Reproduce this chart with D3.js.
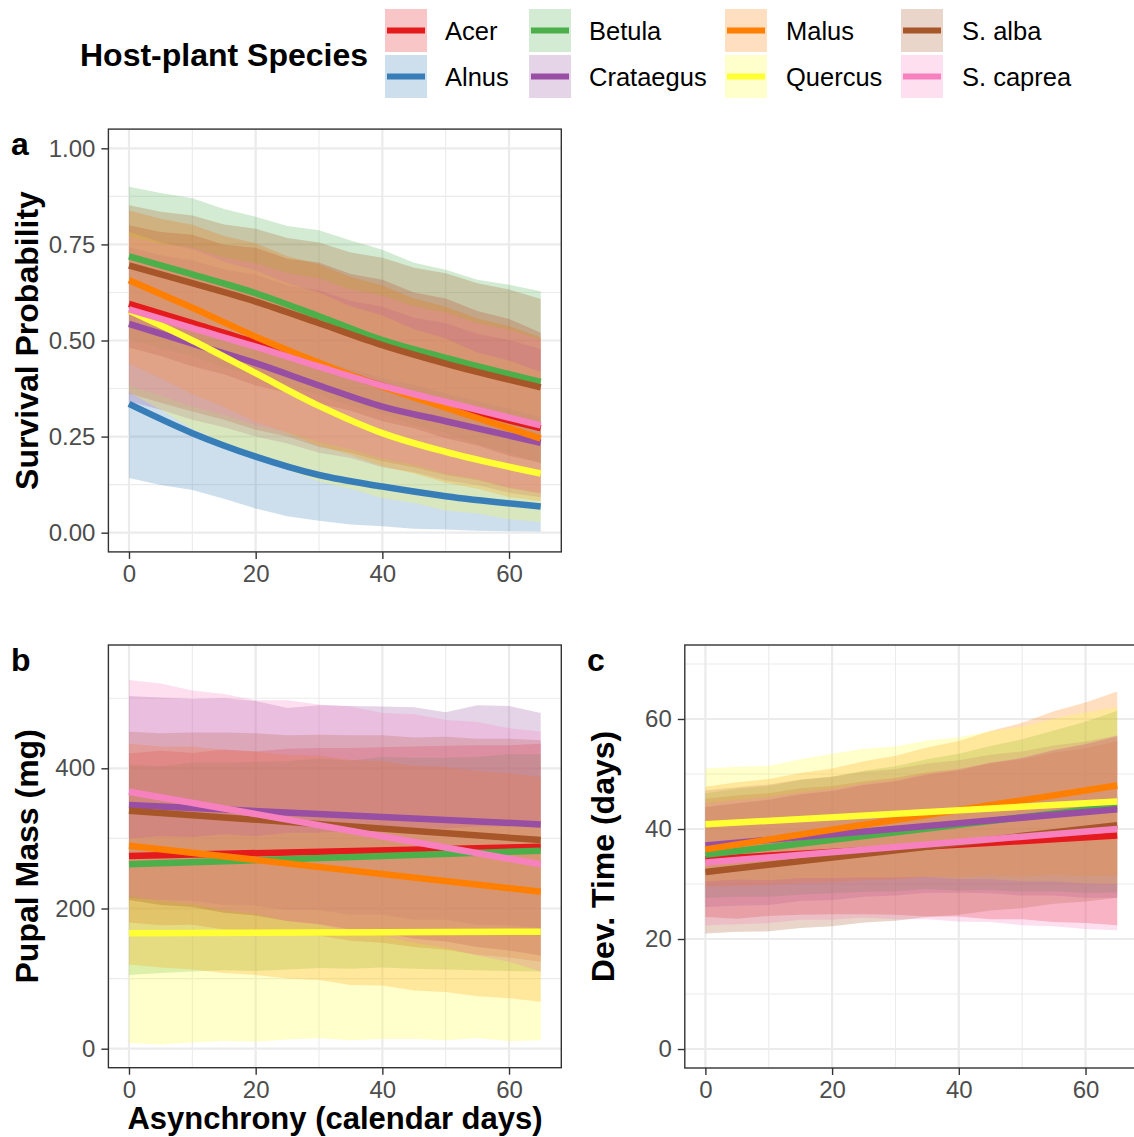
<!DOCTYPE html>
<html>
<head>
<meta charset="utf-8">
<script src="https://cdn.jsdelivr.net/npm/d3@7"></script>
<style>
  body { margin: 0; background: #fff; }
  svg text { font-family: "Liberation Sans", Arial, sans-serif; }
</style>
</head>
<body>
<svg id="chart" width="1134" height="1137"></svg>
<script>
// Host plants, in legend / drawing order, with their line colours
const species = ["Acer", "Alnus", "Betula", "Crataegus", "Malus", "Quercus", "S. alba", "S. caprea"];
const palette = ["#E41A1C", "#377EB8", "#4DAF4A", "#984EA3", "#FF7F00", "#FFFF33", "#A65628", "#F781BF"];

// Asynchrony (days) at which the credible bands are given
const bandDays = [0, 5, 10, 15, 20, 25, 30, 35, 40, 45, 50, 55, 60, 65];
const xTicks = [0, 20, 40, 60];
const xMinor = [10, 30, 50];

// ---- a: survival probability ----
const survivalDays = [0, 10, 20, 30, 40, 50, 65];
const survivalFit = [
  [0.595, 0.545, 0.494, 0.437, 0.382, 0.335, 0.272],
  [0.335, 0.259, 0.198, 0.150, 0.120, 0.095, 0.068],
  [0.719, 0.672, 0.623, 0.563, 0.501, 0.455, 0.392],
  [0.543, 0.492, 0.441, 0.383, 0.328, 0.290, 0.234],
  [0.657, 0.585, 0.510, 0.442, 0.380, 0.325, 0.245],
  [0.578, 0.500, 0.415, 0.330, 0.259, 0.210, 0.154],
  [0.695, 0.649, 0.601, 0.545, 0.488, 0.440, 0.378],
  [0.581, 0.532, 0.484, 0.432, 0.382, 0.340, 0.279]
];
const survivalLower = [
  [0.362, 0.338, 0.315, 0.294, 0.268, 0.250, 0.223, 0.208, 0.186, 0.170, 0.150, 0.137, 0.116, 0.102],
  [0.142, 0.124, 0.111, 0.088, 0.063, 0.043, 0.031, 0.021, 0.017, 0.010, 0.008, 0.005, 0.004, 0.003],
  [0.505, 0.480, 0.460, 0.430, 0.410, 0.380, 0.359, 0.330, 0.310, 0.280, 0.260, 0.230, 0.207, 0.180],
  [0.342, 0.320, 0.294, 0.274, 0.250, 0.232, 0.208, 0.194, 0.170, 0.157, 0.136, 0.124, 0.104, 0.092],
  [0.440, 0.402, 0.360, 0.327, 0.288, 0.260, 0.226, 0.202, 0.173, 0.154, 0.130, 0.114, 0.093, 0.082],
  [0.365, 0.320, 0.270, 0.234, 0.193, 0.164, 0.133, 0.114, 0.090, 0.077, 0.058, 0.050, 0.035, 0.028],
  [0.482, 0.460, 0.433, 0.412, 0.383, 0.364, 0.336, 0.317, 0.290, 0.272, 0.246, 0.227, 0.200, 0.182],
  [0.382, 0.357, 0.328, 0.307, 0.280, 0.262, 0.236, 0.217, 0.193, 0.177, 0.154, 0.140, 0.118, 0.104]
];
const survivalUpper = [
  [0.800, 0.782, 0.775, 0.749, 0.741, 0.713, 0.703, 0.673, 0.658, 0.625, 0.609, 0.577, 0.556, 0.520],
  [0.578, 0.560, 0.535, 0.515, 0.492, 0.468, 0.448, 0.425, 0.402, 0.385, 0.362, 0.342, 0.322, 0.300],
  [0.900, 0.884, 0.870, 0.842, 0.822, 0.798, 0.787, 0.760, 0.736, 0.702, 0.684, 0.658, 0.645, 0.628],
  [0.742, 0.722, 0.708, 0.685, 0.671, 0.643, 0.631, 0.603, 0.588, 0.559, 0.545, 0.517, 0.501, 0.478],
  [0.838, 0.817, 0.801, 0.772, 0.753, 0.719, 0.698, 0.665, 0.643, 0.609, 0.588, 0.557, 0.538, 0.508],
  [0.782, 0.755, 0.738, 0.705, 0.683, 0.649, 0.625, 0.589, 0.565, 0.529, 0.505, 0.469, 0.448, 0.418],
  [0.852, 0.835, 0.825, 0.802, 0.791, 0.767, 0.755, 0.729, 0.715, 0.689, 0.675, 0.649, 0.633, 0.608],
  [0.772, 0.752, 0.741, 0.715, 0.701, 0.675, 0.661, 0.633, 0.617, 0.589, 0.573, 0.545, 0.528, 0.502]
];
const survivalTicks = [0, 0.25, 0.5, 0.75, 1];
const survivalMinor = [0.125, 0.375, 0.625, 0.875];

// ---- b: pupal mass (mg); no Alnus pupae ----
const massDays = [0, 65];
const massFit = [
  [275, 288], null, [263, 282.5], [347.6, 320], [289.6, 224], [164.6, 167], [339.5, 297.7], [366.6, 263]
];
const massLower = [
  [180, 176, 177, 170, 169, 163, 161, 154, 151, 145, 141, 134, 130, 124],
  null,
  [105, 108, 110, 112, 111, 113, 115, 114, 116, 114, 113, 112, 111, 110],
  [215, 212, 211, 205, 204, 198, 198, 191, 191, 184, 184, 177, 176, 172],
  [120, 116, 113, 108, 105, 100, 98, 91, 90, 83, 81, 75, 72, 67],
  [8, 6, 9, 11, 10, 13, 15, 12, 14, 14, 12, 15, 11, 12],
  [212, 205, 202, 194, 190, 182, 178, 170, 166, 157, 153, 145, 140, 133],
  [218, 211, 206, 197, 192, 182, 177, 167, 161, 151, 144, 133, 124, 110]
];
const massUpper = [
  [421, 425, 422, 427, 424, 428, 429, 429, 430, 431, 432, 433, 433, 435],
  null,
  [405, 403, 408, 408, 409, 410, 414, 411, 416, 415, 415, 416, 420, 420],
  [503, 501, 499, 500, 496, 486, 490, 489, 488, 487, 480, 490, 489, 479],
  [435, 431, 431, 426, 424, 419, 418, 412, 410, 404, 402, 396, 393, 388],
  [300, 303, 302, 306, 303, 308, 308, 311, 311, 314, 314, 317, 317, 320],
  [452, 450, 451, 451, 450, 447, 448, 447, 447, 444, 445, 442, 442, 440],
  [526, 521, 511, 506, 497, 497, 491, 488, 479, 477, 469, 466, 457, 452]
];
const massTicks = [0, 200, 400];
const massMinor = [100, 300, 500];

// ---- c: development time (days); no Alnus pupae ----
const devDays = [0, 65];
const devFit = [
  [34.5, 38.8], null, [35.3, 44.2], [37.0, 43.6], [36.3, 47.9], [40.85, 45.0], [32.2, 40.7], [33.9, 40.0]
];
const devLower = [
  [24.0, 23.7, 24.2, 24.4, 24.5, 24.5, 24.4, 24.1, 24.1, 23.6, 23.6, 23.1, 22.9, 22.5],
  null,
  [27.5, 27.7, 27.7, 28.1, 28.3, 28.6, 28.7, 29.1, 28.8, 28.9, 28.6, 28.7, 28.4, 28.5],
  [25.8, 26.1, 26.2, 26.9, 27.1, 27.7, 27.9, 28.4, 28.4, 28.3, 27.9, 27.9, 27.5, 27.5],
  [29.5, 29.7, 29.8, 30.2, 30.3, 30.7, 30.8, 31.3, 31.2, 31.6, 31.3, 31.7, 31.4, 31.5],
  [30.5, 30.8, 30.7, 31.1, 31.1, 31.2, 31.2, 31.3, 30.9, 30.9, 30.5, 30.5, 30.1, 30.0],
  [21.0, 21.3, 21.4, 22.0, 22.3, 23.0, 23.3, 24.0, 24.4, 25.2, 25.6, 26.4, 26.8, 27.5],
  [22.5, 22.7, 22.9, 23.5, 23.5, 23.9, 23.6, 23.6, 23.2, 23.1, 22.5, 22.3, 21.8, 21.6]
];
const devUpper = [
  [45.5, 46.1, 46.5, 47.4, 47.8, 48.7, 49.3, 50.3, 50.9, 52.0, 52.7, 53.9, 54.7, 56.0],
  null,
  [46.5, 47.3, 47.8, 48.9, 49.5, 50.6, 51.4, 52.7, 53.7, 55.1, 56.3, 57.9, 59.5, 61.5],
  [47.0, 47.6, 48.1, 49.0, 49.5, 50.4, 50.9, 51.9, 52.5, 53.5, 54.1, 55.2, 55.9, 57.0],
  [47.7, 48.5, 49.1, 50.2, 51.0, 52.3, 53.3, 54.8, 56.0, 57.8, 59.3, 61.4, 63.0, 65.0],
  [51.0, 51.3, 51.5, 52.7, 53.7, 54.6, 55.0, 56.1, 56.7, 57.8, 58.6, 60.1, 61.2, 62.2],
  [44.0, 44.7, 45.3, 46.3, 46.9, 48.0, 48.7, 49.9, 50.7, 52.0, 52.9, 54.3, 55.4, 56.8],
  [44.7, 45.3, 45.8, 46.7, 47.3, 48.3, 49.0, 50.1, 50.9, 52.1, 53.0, 54.4, 55.5, 57.0]
];
const devTicks = [0, 20, 40, 60];
const devMinor = [10, 30, 50, 70];

// ---------------------------------------------------------------
const svg = d3.select("#chart");
const FONT_TICK = 24, FONT_TITLE = 32;
const BAND_ALPHA = 0.25;

function panel(cfg) {
  const x = d3.scaleLinear().domain([-3.25, 68.25]).range([cfg.left, cfg.right]);
  const y = d3.scaleLinear().domain(cfg.yDomain).range([cfg.bottom, cfg.top]);
  const g = svg.append("g");
  const clipId = "clip-" + cfg.id;
  g.append("clipPath").attr("id", clipId).append("rect")
    .attr("x", cfg.left).attr("y", cfg.top)
    .attr("width", cfg.right - cfg.left).attr("height", cfg.bottom - cfg.top);

  // grid
  const grid = g.append("g");
  xMinor.forEach(v => grid.append("line").attr("x1", x(v)).attr("x2", x(v))
    .attr("y1", cfg.top).attr("y2", cfg.bottom).attr("stroke", "#EBEBEB").attr("stroke-width", 1.1));
  cfg.yMinor.forEach(v => grid.append("line").attr("y1", y(v)).attr("y2", y(v))
    .attr("x1", cfg.left).attr("x2", cfg.right).attr("stroke", "#EBEBEB").attr("stroke-width", 1.1));
  xTicks.forEach(v => grid.append("line").attr("x1", x(v)).attr("x2", x(v))
    .attr("y1", cfg.top).attr("y2", cfg.bottom).attr("stroke", "#EBEBEB").attr("stroke-width", 2.2));
  cfg.yTicks.forEach(v => grid.append("line").attr("y1", y(v)).attr("y2", y(v))
    .attr("x1", cfg.left).attr("x2", cfg.right).attr("stroke", "#EBEBEB").attr("stroke-width", 2.2));

  const marks = g.append("g").attr("clip-path", `url(#${clipId})`);

  // credible bands
  const area = d3.area().x((d, i) => x(bandDays[i])).y0(d => y(d[0])).y1(d => y(d[1]));
  species.forEach((s, k) => {
    if (!cfg.lower[k]) return;
    const pts = cfg.lower[k].map((lo, i) => [lo, cfg.upper[k][i]]);
    marks.append("path").attr("d", area(pts))
      .attr("fill", palette[k]).attr("fill-opacity", BAND_ALPHA);
  });

  // fitted curves
  const line = d3.line().x((d, i) => x(cfg.fitDays[i])).y(d => y(d)).curve(d3.curveMonotoneX);
  species.forEach((s, k) => {
    if (!cfg.fit[k]) return;
    marks.append("path").attr("d", line(cfg.fit[k]))
      .attr("fill", "none").attr("stroke", palette[k]).attr("stroke-width", 6.5)
      .attr("stroke-linecap", "butt");
  });

  // border
  g.append("rect").attr("x", cfg.left).attr("y", cfg.top)
    .attr("width", cfg.right - cfg.left).attr("height", cfg.bottom - cfg.top)
    .attr("fill", "none").attr("stroke", "#333333").attr("stroke-width", 1.4);

  // axes
  const ax = g.append("g").attr("transform", `translate(0,${cfg.bottom})`)
    .call(d3.axisBottom(x).tickValues(xTicks).tickSize(7).tickPadding(6).tickFormat(d3.format("d")));
  const ay = g.append("g").attr("transform", `translate(${cfg.left},0)`)
    .call(d3.axisLeft(y).tickValues(cfg.yTicks).tickSize(7).tickPadding(6).tickFormat(cfg.fmt));
  [ax, ay].forEach(a => {
    a.select(".domain").remove();
    a.selectAll(".tick line").attr("stroke", "#333333").attr("stroke-width", 1.4);
    a.selectAll(".tick text").attr("fill", "#4D4D4D").style("font-size", FONT_TICK + "px")
      .style("font-family", '"Liberation Sans", Arial, sans-serif');
  });

  // y title
  svg.append("text")
    .attr("transform", `translate(${cfg.yTitleX},${(cfg.top + cfg.bottom) / 2}) rotate(-90)`)
    .attr("text-anchor", "middle").attr("font-weight", "bold")
    .style("font-size", FONT_TITLE + "px").attr("fill", "#000").text(cfg.yTitle);

  // panel tag
  svg.append("text").attr("x", cfg.tagX).attr("y", cfg.tagY)
    .attr("font-weight", "bold").style("font-size", "32px").attr("fill", "#000").text(cfg.tag);
  return { x, y };
}

panel({
  id: "a", left: 108.4, right: 561.3, top: 129.1, bottom: 551.9,
  yDomain: [-0.05, 1.05], yTicks: survivalTicks, yMinor: survivalMinor, fmt: d3.format(".2f"),
  fitDays: survivalDays, fit: survivalFit, lower: survivalLower, upper: survivalUpper,
  yTitle: "Survival Probability", yTitleX: 38, tag: "a", tagX: 11, tagY: 155
});

panel({
  id: "b", left: 108.4, right: 561.3, top: 645, bottom: 1067.7,
  yDomain: [-27.1, 575.9], yTicks: massTicks, yMinor: massMinor, fmt: d3.format("d"),
  fitDays: massDays, fit: massFit, lower: massLower, upper: massUpper,
  yTitle: "Pupal Mass (mg)", yTitleX: 38, tag: "b", tagX: 11, tagY: 671
});

panel({
  id: "c", left: 684.8, right: 1137.8, top: 645, bottom: 1068,
  yDomain: [-3.45, 73.45], yTicks: devTicks, yMinor: devMinor, fmt: d3.format("d"),
  fitDays: devDays, fit: devFit, lower: devLower, upper: devUpper,
  yTitle: "Dev. Time (days)", yTitleX: 614, tag: "c", tagX: 587, tagY: 671
});

// x title (shared, under panel b)
svg.append("text").attr("x", 335).attr("y", 1129).attr("text-anchor", "middle")
  .attr("font-weight", "bold").style("font-size", "31px").attr("fill", "#000")
  .text("Asynchrony (calendar days)");

// ---- legend ----
const legend = svg.append("g");
legend.append("text").attr("x", 80).attr("y", 66).attr("font-weight", "bold")
  .style("font-size", "32px").attr("fill", "#000").text("Host-plant Species");
const keyCols = [385, 529, 725, 901];
const labelCols = [445, 589, 786, 962];
const keyRows = [9, 55];
const keyW = 42, keyH = 43;
species.forEach((s, k) => {
  const col = Math.floor(k / 2), row = k % 2;
  const kx = keyCols[col], ky = keyRows[row];
  legend.append("rect").attr("x", kx).attr("y", ky).attr("width", keyW).attr("height", keyH)
    .attr("fill", palette[k]).attr("fill-opacity", BAND_ALPHA);
  legend.append("line").attr("x1", kx + 2).attr("x2", kx + keyW - 2)
    .attr("y1", ky + keyH / 2).attr("y2", ky + keyH / 2)
    .attr("stroke", palette[k]).attr("stroke-width", 6);
  legend.append("text").attr("x", labelCols[col]).attr("y", ky + keyH / 2 + 9)
    .style("font-size", "25.5px").attr("fill", "#000").text(s);
});
</script>
</body>
</html>
